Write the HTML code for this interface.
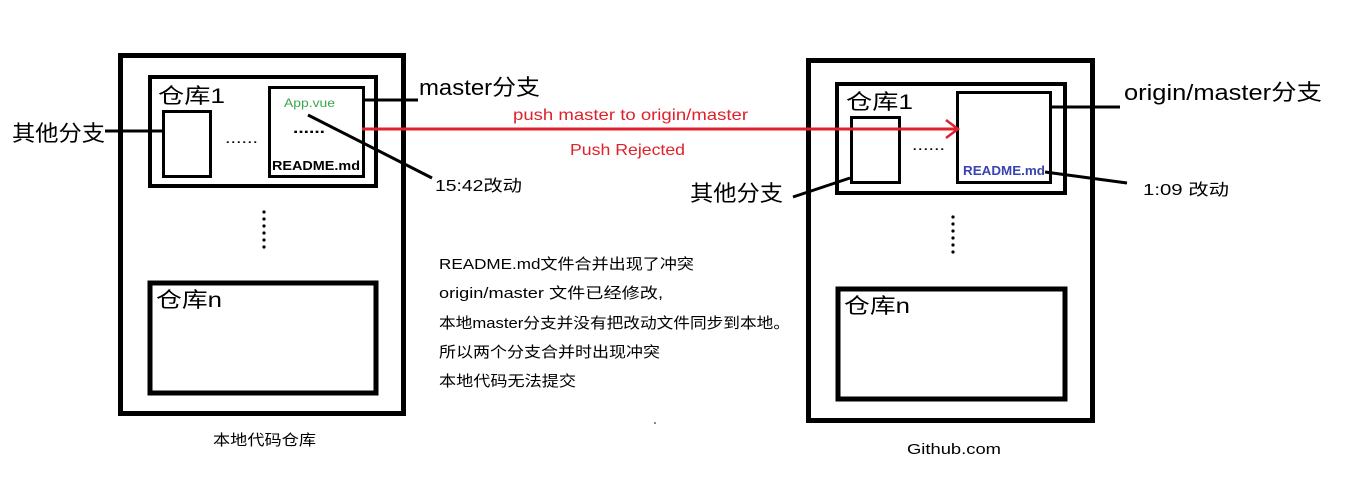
<!DOCTYPE html>
<html><head><meta charset="utf-8"><style>
html,body{margin:0;padding:0;background:#fff;}
svg{display:block;font-family:"Liberation Sans","Noto Sans CJK SC",sans-serif;}
</style></head><body>
<svg width="1351" height="479" viewBox="0 0 1351 479" xmlns="http://www.w3.org/2000/svg">
<rect width="1351" height="479" fill="#fff"/>
<g fill="none" stroke="#000">
<rect x="120.5" y="55.5" width="283" height="358" stroke-width="5"/>
<rect x="150" y="77" width="226" height="109" stroke-width="4"/>
<rect x="163.5" y="111.5" width="47" height="65" stroke-width="3"/>
<rect x="269.5" y="87.5" width="94" height="89" stroke-width="3"/>
<rect x="150" y="283" width="226" height="110" stroke-width="5"/>
<line x1="105" y1="131" x2="163" y2="131" stroke-width="3"/>
<line x1="364" y1="100" x2="418" y2="100" stroke-width="3"/>
<line x1="308" y1="115" x2="432" y2="178" stroke-width="3"/>
<rect x="808.5" y="60.5" width="284" height="360" stroke-width="5"/>
<rect x="837" y="84" width="228" height="109" stroke-width="4"/>
<rect x="851.5" y="117.5" width="48" height="65" stroke-width="3"/>
<rect x="957.5" y="92.5" width="93" height="90" stroke-width="3"/>
<rect x="838" y="289" width="227" height="110" stroke-width="5"/>
<line x1="1051" y1="107" x2="1120" y2="107" stroke-width="3"/>
<line x1="1045" y1="172" x2="1127" y2="183" stroke-width="3"/>
<line x1="850" y1="178" x2="793" y2="197" stroke-width="3"/>
</g>
<g font-size="16" fill="#000" lengthAdjust="spacingAndGlyphs">
<text x="225" y="143" textLength="33" lengthAdjust="spacingAndGlyphs">......</text>
<text x="293" y="133" font-weight="bold" textLength="32" lengthAdjust="spacingAndGlyphs">......</text>
<text x="912" y="150" textLength="33" lengthAdjust="spacingAndGlyphs">......</text>
</g>
<g fill="#000">
<circle cx="264" cy="212" r="1.6"/><circle cx="264" cy="219" r="1.6"/><circle cx="264" cy="226" r="1.6"/><circle cx="264" cy="233" r="1.6"/><circle cx="264" cy="240" r="1.6"/><circle cx="264" cy="247" r="1.6"/>
<circle cx="953" cy="217" r="1.6"/><circle cx="953" cy="224" r="1.6"/><circle cx="953" cy="231" r="1.6"/><circle cx="953" cy="238" r="1.6"/><circle cx="953" cy="245" r="1.6"/><circle cx="953" cy="252" r="1.6"/>
<circle cx="655" cy="423" r="0.8"/>
</g>
<line x1="362" y1="129" x2="958" y2="129" stroke="#e0202a" stroke-width="3"/>
<polyline points="946,120 958,129 946,138" fill="none" stroke="#e0202a" stroke-width="2.5"/>
<text x="513" y="120" font-size="16" fill="#e0202a" textLength="235" lengthAdjust="spacingAndGlyphs">push master to origin/master</text>
<text x="570" y="155" font-size="16" fill="#e0202a" textLength="115" lengthAdjust="spacingAndGlyphs">Push Rejected</text>
<text x="158" y="103" font-size="21" textLength="67" lengthAdjust="spacingAndGlyphs">仓库1</text>
<text x="846" y="109" font-size="21" textLength="67" lengthAdjust="spacingAndGlyphs">仓库1</text>
<text x="156" y="307" font-size="21" textLength="66" lengthAdjust="spacingAndGlyphs">仓库n</text>
<text x="844" y="313" font-size="21" textLength="66" lengthAdjust="spacingAndGlyphs">仓库n</text>
<text x="284" y="107" font-size="12" fill="#3aa64a" textLength="51" lengthAdjust="spacingAndGlyphs">App.vue</text>
<text x="272" y="170" font-size="13" font-weight="bold" textLength="88" lengthAdjust="spacingAndGlyphs">README.md</text>
<text x="963" y="175" font-size="13" font-weight="bold" fill="#3a44b0" textLength="82" lengthAdjust="spacingAndGlyphs">README.md</text>
<text x="12" y="141" font-size="22" textLength="93" lengthAdjust="spacingAndGlyphs">其他分支</text>
<text x="690" y="201" font-size="22" textLength="93" lengthAdjust="spacingAndGlyphs">其他分支</text>
<text x="419" y="95" font-size="22" textLength="121" lengthAdjust="spacingAndGlyphs">master分支</text>
<text x="1124" y="100" font-size="22" textLength="198" lengthAdjust="spacingAndGlyphs">origin/master分支</text>
<text x="435" y="191" font-size="16" textLength="87" lengthAdjust="spacingAndGlyphs">15:42改动</text>
<text x="1143" y="195" font-size="16" textLength="86" lengthAdjust="spacingAndGlyphs">1:09 改动</text>
<g font-size="15">
<text x="439" y="269" textLength="255" lengthAdjust="spacingAndGlyphs">README.md文件合并出现了冲突</text>
<text x="439" y="298" textLength="224" lengthAdjust="spacingAndGlyphs">origin/master 文件已经修改,</text>
<text x="439" y="328" textLength="351" lengthAdjust="spacingAndGlyphs">本地master分支并没有把改动文件同步到本地。</text>
<text x="439" y="357" textLength="221" lengthAdjust="spacingAndGlyphs">所以两个分支合并时出现冲突</text>
<text x="439" y="386" textLength="137" lengthAdjust="spacingAndGlyphs">本地代码无法提交</text>
</g>
<text x="213" y="445" font-size="15" textLength="103" lengthAdjust="spacingAndGlyphs">本地代码仓库</text>
<text x="907" y="454" font-size="15" textLength="94" lengthAdjust="spacingAndGlyphs">Github.com</text>
</svg>
</body></html>
